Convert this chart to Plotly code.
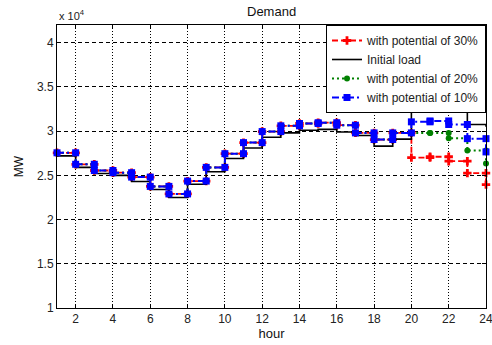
import plotly.graph_objects as go

hours = list(range(1, 25))

initial_load = [27200, 25900, 25200, 25000, 24300, 23400, 22500, 24000, 25400, 26900,
                28100, 29300, 29800, 30100, 30200, 29900, 29500, 28300, 29100, 32700,
                32850, 32400, 30750, 30500]
pot_10 = [27550, 26250, 25550, 25300, 24800, 23750, 22900, 24350, 25900, 27450,
          28700, 29950, 30600, 30860, 30950, 30670, 29800, 29050, 29800, 31050,
          31150, 30750, 29150, 27650]
pot_20 = pot_10[:19] + [29780, 29780, 29200, 27800, 26350]
pot_30 = pot_10[:19] + [27000, 27100, 26600, 25250, 23950]

y_tickvals = [10000, 15000, 20000, 25000, 30000, 35000, 40000]
y_ticktext = ["1", "1.5", "2", "2.5", "3", "3.5", "4"]
x_tickvals = list(range(2, 25, 2))


def stairs(x, y):
    xs, ys = [], []
    for i in range(len(x) - 1):
        xs += [x[i], x[i + 1]]
        ys += [y[i], y[i]]
    xs.append(x[-1])
    ys.append(y[-1])
    return xs, ys


fig = go.Figure()

sx, sy = stairs(hours, pot_30)
fig.add_trace(go.Scatter(x=sx, y=sy, mode="lines+markers", name="with potential of 30%",
                         line=dict(color="#ff0000", width=1.8, dash="6px,3px"),
                         marker=dict(symbol="cross", size=7, color="#ff0000"),
                         cliponaxis=False))
sx, sy = stairs(hours, initial_load)
fig.add_trace(go.Scatter(x=sx, y=sy, mode="lines", name="Initial load",
                         line=dict(color="#000000", width=1.6)))
sx, sy = stairs(hours, pot_20)
fig.add_trace(go.Scatter(x=sx, y=sy, mode="lines+markers", name="with potential of 20%",
                         line=dict(color="#008000", width=2, dash="2px,3px"),
                         marker=dict(symbol="circle", size=6, color="#008000"),
                         cliponaxis=False))
sx, sy = stairs(hours, pot_10)
fig.add_trace(go.Scatter(x=sx, y=sy, mode="lines+markers", name="with potential of 10%",
                         line=dict(color="#0000ff", width=2, dash="7px,3px,2px,3px"),
                         marker=dict(symbol="square", size=7, color="#0000ff"),
                         cliponaxis=False))

axis_common = dict(showline=True, linecolor="black", linewidth=1, mirror="ticks",
                   ticks="inside", ticklen=4, tickcolor="black",
                   showgrid=True, gridcolor="black", gridwidth=1, zeroline=False,
                   ticklabeloverflow="allow", automargin=False,
                   tickfont=dict(family="Liberation Sans, Arial", size=12, color="#222"))

fig.update_layout(
    width=492, height=345,
    margin=dict(l=57, r=6, t=25, b=37),
    paper_bgcolor="white", plot_bgcolor="white",
    font=dict(family="Liberation Sans, Arial", size=12, color="#222"),
    title=dict(text="Demand", x=0.552, xanchor="center", y=0.968, yanchor="middle",
               font=dict(size=13, color="#111")),
    xaxis=dict(range=[1, 24], tickvals=x_tickvals, griddash="1px,2px",
               title=dict(text="hour", standoff=2, font=dict(size=13, color="#111")),
               **axis_common),
    yaxis=dict(range=[10000, 42000], tickvals=y_tickvals, ticktext=y_ticktext,
               griddash="4px,3px",
               title=dict(text="MW", standoff=10, font=dict(size=12, color="#111")),
               **axis_common),
    legend=dict(x=1, y=1, xanchor="right", yanchor="top", bgcolor="white",
                bordercolor="black", borderwidth=1,
                font=dict(size=12, color="#222"), tracegroupgap=0),
    showlegend=True,
    annotations=[dict(text="x 10<sup>4</sup>", xref="paper", yref="paper", x=0, y=1,
                      xanchor="left", yanchor="bottom", showarrow=False,
                      font=dict(size=11, color="#222"), yshift=1)],
)

fig.write_html("out.html", config={"displayModeBar": False},
               post_script="document.body.style.margin='0px';document.body.style.overflow='hidden';")
